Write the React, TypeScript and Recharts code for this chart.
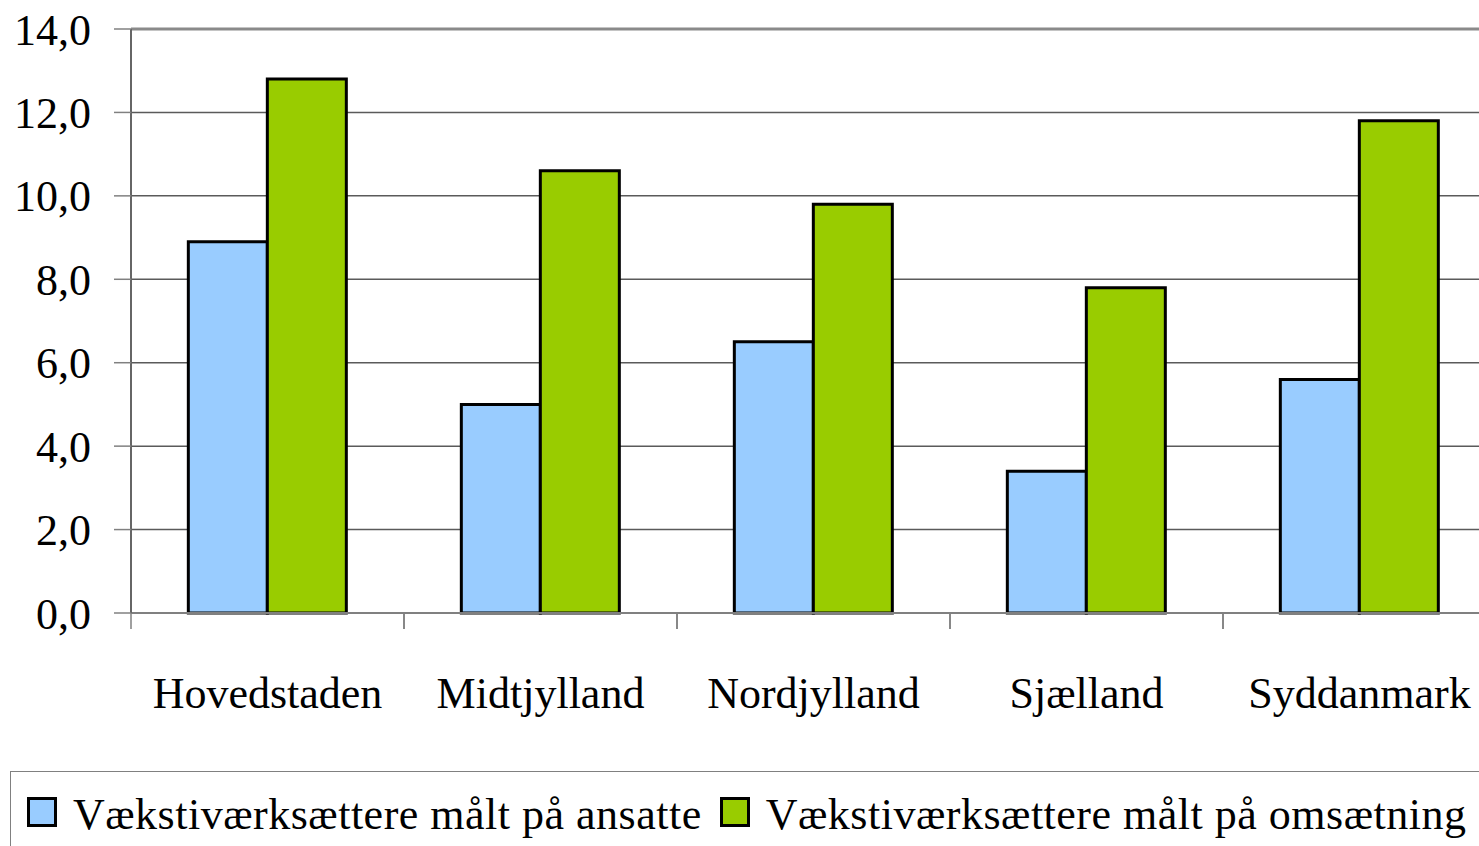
import React from 'react';
import { BarChart, Bar, XAxis, YAxis, CartesianGrid, Legend, ReferenceLine } from 'recharts';

const categories = ['Hovedstaden', 'Midtjylland', 'Nordjylland', 'Sjælland', 'Syddanmark'];
const ansatte = [8.9, 5.0, 6.5, 3.4, 5.6];
const omsaetning = [12.8, 10.6, 9.8, 7.8, 11.8];
const yTicks = [0, 2, 4, 6, 8, 10, 12, 14];
const seriesNames = ['Vækstiværksættere målt på ansatte', 'Vækstiværksættere målt på omsætning'];
const seriesColors = ['#99CCFF', '#99CC00'];

const data = categories.map((c, i) => ({ name: c, ansatte: ansatte[i], omsaetning: omsaetning[i] }));

const FONT = "'Liberation Serif', 'Times New Roman', serif";

const fmt = (v: number) => v.toFixed(1).replace('.', ',');

const XTick = (props: any) => {
  const { x, y, payload } = props;
  const off = payload && typeof payload.offset === 'number' ? payload.offset : 136.5;
  return (
    <g>
      <line x1={x - off} x2={x - off} y1={y} y2={y + 16} stroke="#808080" strokeWidth={1.5} />
      <line x1={x + off} x2={x + off} y1={y} y2={y + 16} stroke="#808080" strokeWidth={1.5} />
      <text x={x} y={y + 95} textAnchor="middle" fontSize={44} fontFamily={FONT} fill="#000">
        {payload.value}
      </text>
    </g>
  );
};

const renderLegend = (props: any) => {
  const payload = props.payload || [];
  return (
    <div
      style={{
        boxSizing: 'border-box',
        width: '100%',
        height: '100%',
        border: '1px solid #808080',
        paddingLeft: 16,
        paddingTop: 15,
        display: 'flex',
        alignItems: 'flex-start',
        fontFamily: FONT,
        background: '#fff',
      }}
    >
      {payload.map((p: any, i: number) => (
        <div key={i} style={{ display: 'flex', alignItems: 'center', height: 50, marginRight: 18 }}>
          <div
            style={{
              width: 30,
              height: 30,
              boxSizing: 'border-box',
              border: '3px solid #000',
              background: p.color,
              marginRight: 16,
            }}
          />
          <span
            style={{
              fontSize: 44,
              lineHeight: '50px',
              whiteSpace: 'nowrap',
              color: '#000',
              letterSpacing: 0.5,
              position: 'relative',
              top: 3,
            }}
          >
            {p.value}
          </span>
        </div>
      ))}
    </div>
  );
};

export default function App() {
  return (
    <div
      style={{
        position: 'fixed',
        left: 0,
        top: 0,
        width: 1479,
        height: 846,
        overflow: 'hidden',
        background: '#fff',
      }}
    >
      <BarChart
        width={1560}
        height={846}
        data={data}
        margin={{ top: 29, right: 64, bottom: 153, left: 0 }}
        barCategoryGap="21%"
        barGap={0}
      >
        <CartesianGrid horizontal vertical={false} stroke="#5a5a5a" strokeWidth={1.5} />
        <ReferenceLine y={14} stroke="#8a8a8a" strokeWidth={3} />
        <XAxis
          dataKey="name"
          height={80}
          tickLine={false}
          tickSize={0}
          tickMargin={0}
          axisLine={{ stroke: '#808080', strokeWidth: 2 }}
          tick={<XTick />}
          interval={0}
        />
        <YAxis
          width={131}
          domain={[0, 14]}
          ticks={yTicks}
          interval={0}
          tickFormatter={fmt}
          tickSize={17}
          tickMargin={23}
          tickLine={{ stroke: '#808080', strokeWidth: 1.5 }}
          axisLine={{ stroke: '#666', strokeWidth: 2 }}
          tick={{ fontSize: 44, fontFamily: FONT, fill: '#000' }}
        />
        <Legend
          layout="horizontal"
          verticalAlign="middle"
          align="center"
          wrapperStyle={{ left: 10, top: 771, width: 1560, height: 120 }}
          content={renderLegend}
        />
        <Bar
          dataKey="ansatte"
          name={seriesNames[0]}
          fill={seriesColors[0]}
          stroke="#000"
          strokeWidth={3}
          isAnimationActive={false}
        />
        <Bar
          dataKey="omsaetning"
          name={seriesNames[1]}
          fill={seriesColors[1]}
          stroke="#000"
          strokeWidth={3}
          isAnimationActive={false}
        />
      </BarChart>
    </div>
  );
}
